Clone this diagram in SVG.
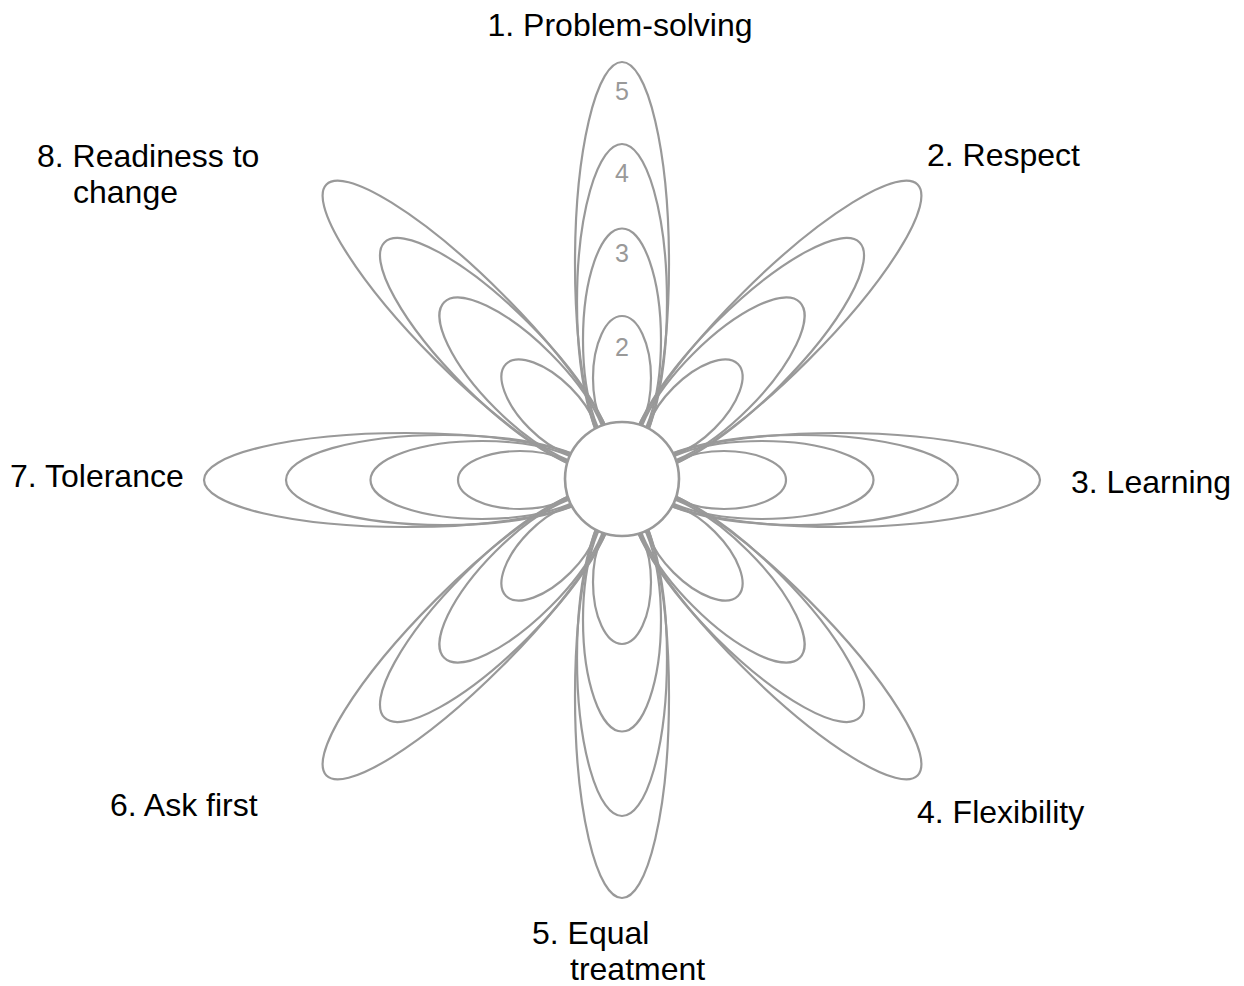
<svg xmlns="http://www.w3.org/2000/svg" width="1244" height="986" viewBox="0 0 1244 986">
  <style>
    .pet { fill: none; stroke: #999999; stroke-width: 2.2; }
    .hub { fill: #ffffff; stroke: #999999; stroke-width: 2.6; }
    .lbl { font-family: "Liberation Sans", Arial, Helvetica, sans-serif; font-size: 32px; fill: #000000; }
    .num { font-family: "Liberation Sans", Arial, Helvetica, sans-serif; font-size: 25px; fill: #999999; text-anchor: middle; }
  </style>
  <defs>
    <g id="petal">
      <ellipse class="pet" cx="622" cy="378" rx="29" ry="62"/>
      <ellipse class="pet" cx="622" cy="340" rx="39" ry="111.5"/>
      <ellipse class="pet" cx="622" cy="302" rx="45" ry="158"/>
      <ellipse class="pet" cx="622" cy="263.5" rx="47" ry="201.5"/>
    </g>
  </defs>
  <g id="petals">
    <g id="node-1-problem-solving">
      <use href="#petal"/>
      <text class="num" x="622" y="100">5</text>
      <text class="num" x="622" y="182">4</text>
      <text class="num" x="622" y="262">3</text>
      <text class="num" x="622" y="356">2</text>
      <text class="lbl" x="620" y="36" text-anchor="middle">1. Problem-solving</text>
    </g>
    <g id="node-2-respect">
      <use href="#petal" transform="rotate(45 622 480)"/>
      <text class="lbl" x="927" y="166">2. Respect</text>
    </g>
    <g id="node-3-learning">
      <use href="#petal" transform="rotate(90 622 480)"/>
      <text class="lbl" x="1071" y="493">3. Learning</text>
    </g>
    <g id="node-4-flexibility">
      <use href="#petal" transform="rotate(135 622 480)"/>
      <text class="lbl" x="917" y="823">4. Flexibility</text>
    </g>
    <g id="node-5-equal-treatment">
      <use href="#petal" transform="rotate(180 622 480)"/>
      <text class="lbl" x="532" y="944">5. Equal</text>
      <text class="lbl" x="570" y="980">treatment</text>
    </g>
    <g id="node-6-ask-first">
      <use href="#petal" transform="rotate(225 622 480)"/>
      <text class="lbl" x="110" y="816">6. Ask first</text>
    </g>
    <g id="node-7-tolerance">
      <use href="#petal" transform="rotate(270 622 480)"/>
      <text class="lbl" x="10" y="487">7. Tolerance</text>
    </g>
    <g id="node-8-readiness">
      <use href="#petal" transform="rotate(315 622 480)"/>
      <text class="lbl" x="37" y="167">8. Readiness to</text>
      <text class="lbl" x="73" y="203">change</text>
    </g>
  </g>
  <g id="connectors"></g>
  <g id="node-center">
    <circle class="hub" cx="622" cy="479" r="57"/>
  </g>
</svg>
